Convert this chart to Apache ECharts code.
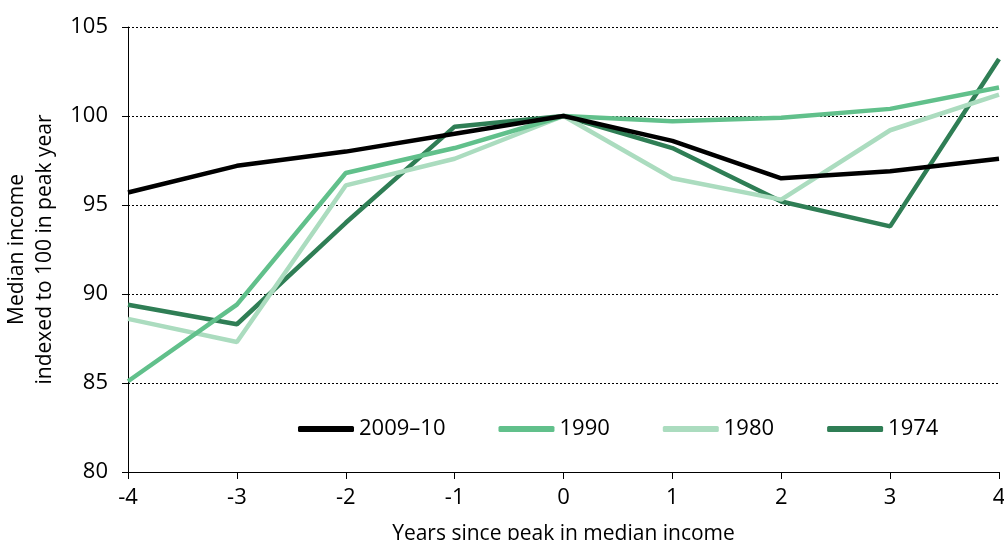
<!DOCTYPE html>
<html>
<head>
<meta charset="utf-8">
<script src="https://cdn.jsdelivr.net/npm/echarts@6/dist/echarts.min.js"></script>
<style>
  html, body { margin: 0; padding: 0; background: #fff; }
  #chart { width: 1004px; height: 540px; }
</style>
</head>
<body>
<div id="chart"></div>
<script>
// years relative to the peak year
var years = [-4, -3, -2, -1, 0, 1, 2, 3, 4];

// median income, indexed to 100 in the peak year
var s2009 = [95.7, 97.2, 98.0, 99.0, 100, 98.6, 96.5, 96.9, 97.6];
var s1990 = [85.1, 89.4, 96.8, 98.2, 100, 99.7, 99.9, 100.4, 101.6];
var s1980 = [88.6, 87.3, 96.1, 97.6, 100, 96.5, 95.3, 99.2, 101.2];
var s1974 = [89.4, 88.3, 94.0, 99.4, 100, 98.2, 95.2, 93.8, 103.2];

var names = ['2009–10', '1990', '1980', '1974'];
var colors = ['#000000', '#61c08b', '#abdcbf', '#2f7e55'];

var font = 'Open Sans';

function pairs(vals) {
    var out = [];
    for (var i = 0; i < years.length; i++) {
        out.push([years[i], vals[i]]);
    }
    return out;
}

var allData = [s2009, s1990, s1980, s1974];
var series = [];
for (var i = 0; i < allData.length; i++) {
    series.push({
        name: names[i],
        type: 'line',
        data: pairs(allData[i]),
        symbol: 'none',
        lineStyle: { width: 4.5, color: colors[i] },
        itemStyle: { color: colors[i] },
        z: 10 - i
    });
}

var myChart = echarts.init(document.getElementById('chart'));

option = {
    animation: false,
    grid: { left: 128, right: 5, top: 27, bottom: 68, outerBoundsMode: 'none' },
    legend: {
        data: names,
        left: 293,
        top: 413,
        itemWidth: 56,
        itemHeight: 6,
        itemGap: 53,
        icon: 'roundRect',
        textStyle: { fontFamily: font, fontSize: 22, color: '#000' }
    },
    xAxis: {
        type: 'value',
        min: -4,
        max: 4,
        interval: 1,
        name: 'Years since peak in median income',
        nameLocation: 'middle',
        nameGap: 52,
        nameTextStyle: { fontFamily: font, fontSize: 21, color: '#000' },
        axisLine: { onZero: false, lineStyle: { color: '#000', width: 1 } },
        axisTick: { show: true, length: 7, lineStyle: { color: '#000' } },
        axisLabel: { fontFamily: font, fontSize: 22, color: '#000', margin: 15 },
        splitLine: { show: false }
    },
    yAxis: {
        type: 'value',
        min: 80,
        max: 105,
        interval: 5,
        name: 'Median income\nindexed to 100 in peak year',
        nameLocation: 'middle',
        nameGap: 62,
        nameTextStyle: { fontFamily: font, fontSize: 21, color: '#000', lineHeight: 28 },
        axisLine: { show: true, onZero: false, lineStyle: { color: '#000', width: 1 } },
        axisTick: { show: true, length: 6, lineStyle: { color: '#000' } },
        axisLabel: { fontFamily: font, fontSize: 22, color: '#000', margin: 20 },
        splitLine: { show: true, lineStyle: { color: '#000', type: [2, 2], width: 1 } }
    },
    series: series
};

myChart.setOption(option);
</script>
</body>
</html>
